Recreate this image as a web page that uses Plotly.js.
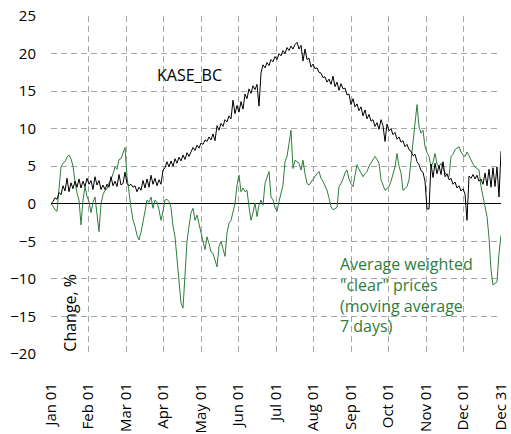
<!DOCTYPE html>
<html>
<head>
<meta charset="utf-8">
<script src="https://cdn.plot.ly/plotly-3.0.1.min.js"></script>
<style>html,body{margin:0;padding:0;background:#fff;}#chart{width:511px;height:434px;}</style>
</head>
<body>
<div id="chart"></div>
<script>
// Month tick labels (equally spaced across the year, position in sample index)
const monthLabels = ["Jan 01","Feb 01","Mar 01","Apr 01","May 01","Jun 01","Jul 01","Aug 01","Sep 01","Oct 01","Nov 01","Dec 01","Dec 31"];
const monthTickIndex = [0,18.75,37.5,56.25,75,93.75,112.5,131.25,150,168.75,187.5,206.25,225];

// KASE_BC, change %, sampled through the year
const kaseBC = [
0.0,0.3,0.8,0.6,1.5,1.2,2.4,1.7,3.4,1.6,2.8,2.0,3.0,2.2,3.3,2.1,3.0,2.3,3.4,2.6,
3.1,1.9,3.6,2.5,3.1,1.9,2.5,1.9,2.6,2.2,3.6,2.4,3.0,2.3,3.9,2.5,2.7,4.2,2.7,2.4,
2.6,2.2,2.4,1.6,2.2,1.8,3.1,2.1,3.3,2.2,3.8,2.6,3.4,2.4,3.2,2.6,4.5,4.8,5.6,4.9,
5.7,5.0,6.0,5.4,6.2,5.7,6.5,5.9,6.8,6.3,6.9,7.5,7.1,7.8,7.4,8.1,7.9,8.5,8.3,8.9,
8.5,9.3,8.4,10.4,9.8,10.7,10.3,11.2,10.9,11.7,11.3,13.8,12.0,13.1,12.2,13.6,12.6,14.6,14.0,15.3,
14.7,15.7,15.2,15.9,13.0,17.4,18.5,18.1,18.8,18.4,19.2,18.9,19.6,19.2,20.0,19.7,20.4,20.0,20.8,20.4,
21.0,20.6,21.2,21.5,20.6,21.1,19.0,20.6,19.2,19.4,18.2,18.6,18.0,18.1,17.5,17.4,16.8,16.9,16.2,16.6,
15.9,17.0,15.6,16.2,15.1,16.0,15.3,15.4,14.5,14.6,13.2,14.0,12.9,13.3,12.4,12.9,11.7,12.5,11.3,11.9,
11.0,11.2,10.3,10.8,9.9,11.2,10.4,8.3,10.6,9.7,10.0,9.2,9.5,8.6,8.9,8.2,8.4,7.6,7.9,7.2,
7.0,6.4,6.6,5.6,5.2,4.4,4.2,3.0,-0.7,-0.7,5.3,3.5,5.4,4.0,5.1,3.9,5.6,3.6,4.0,3.2,
3.4,2.6,2.9,2.1,2.4,1.7,2.0,1.3,-2.2,3.7,3.4,3.9,3.3,3.8,3.0,3.3,2.6,4.1,2.4,4.6,
2.2,4.8,2.3,4.9,0.9,7.0
];

// Average weighted "clear" prices, moving average 7 days, change %
const clearPrices = [
0.0,-0.3,-0.8,-1.0,2.0,4.9,5.4,5.6,6.2,6.5,6.0,5.0,3.0,1.4,0.5,-2.8,0.5,2.3,1.0,0.3,
-1.2,0.2,0.9,-1.5,-3.7,0.0,1.2,1.8,2.0,2.8,3.2,4.0,4.9,4.6,5.9,6.0,6.8,7.5,3.6,1.2,
-0.5,-2.2,-3.0,-4.2,-4.8,-3.8,-2.6,-1.0,0.5,0.2,0.9,-0.6,0.5,0.2,-0.8,-2.2,-1.0,0.5,0.6,0.3,
-0.5,-3.0,-4.4,-7.5,-10.5,-13.2,-13.9,-9.2,-5.0,-3.0,-1.2,-0.6,-2.2,-1.5,-2.8,-3.9,-5.0,-6.1,-4.4,-5.3,
-6.4,-6.6,-7.4,-8.4,-5.7,-5.0,-6.0,-7.0,-3.9,-2.6,-2.2,-1.2,0.0,2.5,3.8,1.6,2.1,1.6,1.8,-0.4,
-2.2,-1.2,0.1,-1.7,-0.2,0.5,-0.2,2.7,3.6,4.3,0.9,0.5,-0.5,-1.0,0.3,1.4,2.5,5.6,6.3,8.0,
9.8,4.7,5.8,5.6,5.4,4.5,5.8,4.0,2.7,2.5,2.9,3.2,3.6,4.0,4.3,3.4,3.0,2.4,1.8,0.8,
-0.4,-0.8,-0.7,-0.5,2.3,2.7,3.3,4.1,4.5,3.3,2.7,2.3,3.8,5.2,4.6,4.0,3.6,4.0,4.3,5.0,
5.4,5.8,6.3,5.9,5.4,3.2,2.4,1.8,2.0,2.3,3.0,4.0,4.9,6.7,5.0,4.1,1.8,2.0,2.3,3.2,
5.8,8.0,10.7,13.2,10.3,9.4,9.8,7.6,6.8,6.3,4.9,5.5,6.7,5.3,4.9,5.4,4.8,4.1,3.8,3.6,
6.3,6.6,7.2,7.4,7.6,6.9,6.5,6.3,6.9,6.4,5.8,5.3,4.9,4.7,4.5,2.3,1.0,0.0,-1.7,-4.5,
-8.8,-10.8,-10.6,-10.4,-6.6,-4.2
];

const yTicks = [-20,-15,-10,-5,0,5,10,15,20,25];

const FONT = "Open Sans, Noto Sans, sans-serif";
const GREEN = "#2e7d3c";
const GRID = "#a6a6a6";

const traces = [
  {y: clearPrices, type: "scatter", mode: "lines", line: {color: GREEN, width: 1}, hoverinfo: "skip"},
  {y: kaseBC, type: "scatter", mode: "lines", line: {color: "#000000", width: 1}, hoverinfo: "skip"}
];

const layout = {
  width: 511, height: 434,
  margin: {l: 51, r: 10, t: 16, b: 80},
  paper_bgcolor: "#ffffff", plot_bgcolor: "#ffffff",
  showlegend: false,
  font: {family: FONT, size: 15, color: "#000"},
  xaxis: {
    range: [0, 225], tickmode: "array", tickvals: monthTickIndex, ticktext: monthLabels,
    tickangle: -90, showgrid: true, gridcolor: GRID, griddash: "6px,4px", gridwidth: 1,
    zeroline: false, showline: false, ticks: "", ticklabelstandoff: 25,
    tickfont: {family: FONT, size: 15, color: "#000"}
  },
  yaxis: {
    range: [-20, 25], tickmode: "array", tickvals: yTicks,
    showgrid: true, gridcolor: GRID, griddash: "6px,4px", gridwidth: 1,
    zeroline: true, zerolinecolor: "#000", zerolinewidth: 1.2,
    showline: false, ticks: "", ticklabelstandoff: 14,
    tickfont: {family: FONT, size: 15, color: "#000"}
  },
  annotations: [
    {x: 52, y: 17.15, xref: "x", yref: "y", text: "KASE_BC", showarrow: false,
     xanchor: "left", yanchor: "middle", font: {family: FONT, size: 16, color: "#000"}},
    {x: 143.5, y: -12.1, xref: "x", yref: "y", text: "Average weighted<br>\"clear\" prices<br>(moving average<br>7 days)",
     showarrow: false, xanchor: "left", yanchor: "middle", align: "left",
     font: {family: FONT, size: 16, color: GREEN}},
    {x: 9.5, y: -14.5, xref: "x", yref: "y", text: "Change, %", showarrow: false, textangle: -90,
     xanchor: "center", yanchor: "middle", font: {family: FONT, size: 16, color: "#000"}}
  ]
};

Plotly.newPlot("chart", traces, layout, {staticPlot: true, displayModeBar: false});
</script>
</body>
</html>
